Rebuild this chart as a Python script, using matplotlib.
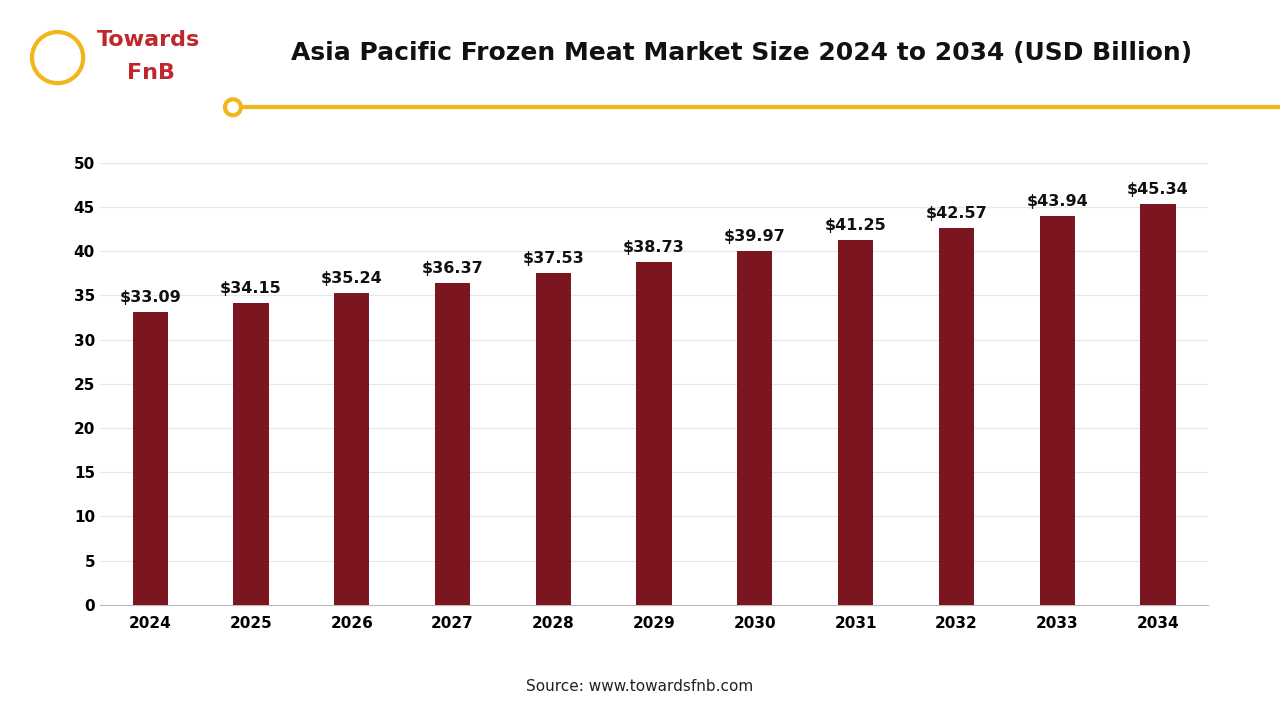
import matplotlib
matplotlib.use("Agg")
import matplotlib.pyplot as plt
from matplotlib.patches import Ellipse

years = ["2024","2025","2026","2027","2028","2029","2030","2031","2032","2033","2034"]
values = [33.09,34.15,35.24,36.37,37.53,38.73,39.97,41.25,42.57,43.94,45.34]

fig = plt.figure(figsize=(12.8,7.2), dpi=100)
ax = fig.add_axes([0.078,0.160,0.866,0.614])
x = range(len(years))
ax.bar(x, values, width=0.35, color="#7B1620", zorder=3)
for i,v in zip(x, values):
    ax.text(i, v+0.8, f"${v:.2f}", ha="center", va="bottom", fontsize=11.5, fontweight="bold", color="#111")
ax.set_xlim(-0.5, len(years)-0.5)
ax.set_ylim(0,50)
ax.set_yticks(range(0,51,5))
ax.set_xticks(list(x))
ax.set_xticklabels(years, fontweight="bold", fontsize=11)
ax.tick_params(axis="y", labelsize=11, length=0)
ax.tick_params(axis="x", length=0, pad=8)
for t in ax.get_yticklabels(): t.set_fontweight("bold")
ax.grid(axis="y", color="#e6e6e6", lw=0.8, zorder=0)
for s in ["top","right","left"]: ax.spines[s].set_visible(False)
ax.spines["bottom"].set_color("#bbbbbb")

fig.text(0.579, 0.927, "Asia Pacific Frozen Meat Market Size 2024 to 2034 (USD Billion)", ha="center", va="center", fontsize=18, fontweight="bold", color="#111")
fig.add_artist(plt.Line2D([0.182,1.0],[0.851,0.851], color="#F2B51C", lw=3, transform=fig.transFigure))
fig.add_artist(Ellipse((0.182,0.851), 0.0125, 0.0222, transform=fig.transFigure, facecolor="white", edgecolor="#F2B51C", lw=3, zorder=5))
fig.text(0.5, 0.047, "Source: www.towardsfnb.com", ha="center", va="center", fontsize=11, color="#222")
fig.text(0.076, 0.945, "Towards", ha="left", va="center", fontsize=16, color="#C0272D", fontweight="bold")
fig.text(0.099, 0.898, "FnB", ha="left", va="center", fontsize=16, color="#C0272D", fontweight="bold")
fig.add_artist(Ellipse((0.045,0.92), 0.04, 0.071, transform=fig.transFigure, facecolor="none", edgecolor="#F2B51C", lw=3))
fig.savefig("out.png", dpi=100)
